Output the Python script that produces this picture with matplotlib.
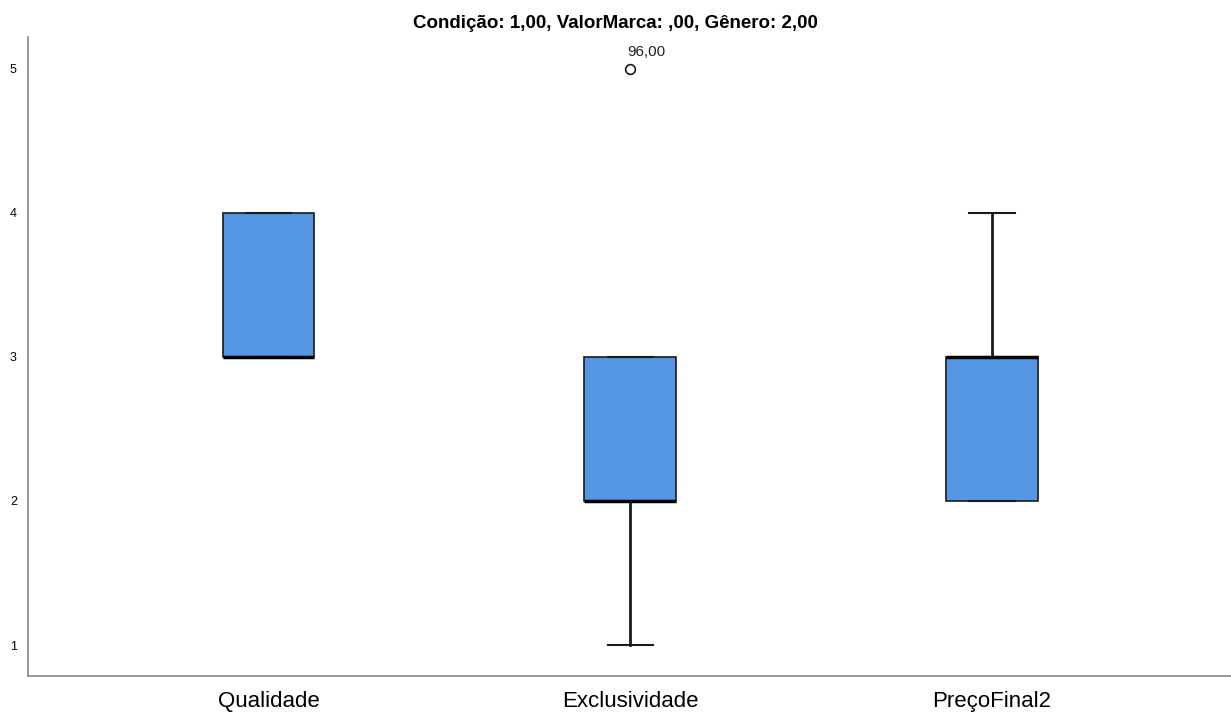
import numpy as np
import matplotlib
matplotlib.use("Agg")
import matplotlib.pyplot as plt

plt.rcParams['font.family'] = ['Liberation Sans', 'DejaVu Sans']

# box statistics
labels = ["Qualidade", "Exclusividade", "PreçoFinal2"]
q1 = [3, 2, 2]
med = [3, 2, 3]
q3 = [4, 3, 3]
whislo = [3, 1, 2]
whishi = [4, 3, 4]
fliers = [[], [5], []]
flier_ids = [[], ["96,00"], []]

stats = []
for i in range(len(labels)):
    stats.append(dict(label=labels[i], q1=q1[i], med=med[i], q3=q3[i],
                      whislo=whislo[i], whishi=whishi[i], fliers=fliers[i]))

fig = plt.figure(figsize=(12.31, 7.14), dpi=100)
ax = fig.add_axes([0.0227, 0.0532, 0.977, 0.895])

pos = [1, 2, 3]
ax.bxp(stats, positions=pos, widths=0.254, patch_artist=True,
       boxprops=dict(facecolor="#5596e5", edgecolor="#1a1a1a", linewidth=1.2),
       medianprops=dict(color="black", linewidth=2.5),
       whiskerprops=dict(color="#1a1a1a", linewidth=2),
       capprops=dict(color="#1a1a1a", linewidth=1.5),
       capwidths=0.125,
       flierprops=dict(marker="o", markerfacecolor="white", markeredgecolor="#1a1a1a",
                       markersize=7, markeredgewidth=1.2))

for i, ids in enumerate(flier_ids):
    for v, t in zip(fliers[i], ids):
        ax.annotate(t, (pos[i], v), xytext=(-2, 7), textcoords="offset points",
                    fontsize=11, ha="left", va="bottom", color="#222222")

ax.set_xlim(0.335, 3.66)
ax.set_ylim(0.785, 5.22)
ax.set_yticks([1, 2, 3, 4, 5])
ax.tick_params(axis="y", length=0, labelsize=9, pad=8)
ax.tick_params(axis="x", length=0, labelsize=16, pad=11)
ax.set_xticks(pos)
ax.set_xticklabels(labels)
for s in ["top", "right"]:
    ax.spines[s].set_visible(False)
for s in ["left", "bottom"]:
    ax.spines[s].set_color("#888888")
    ax.spines[s].set_linewidth(1.2)

fig.text(0.5, 0.967, "Condição: 1,00, ValorMarca: ,00, Gênero: 2,00",
         ha="center", va="center", fontsize=13.5, fontweight="bold")

fig.savefig("out.png", dpi=100)
